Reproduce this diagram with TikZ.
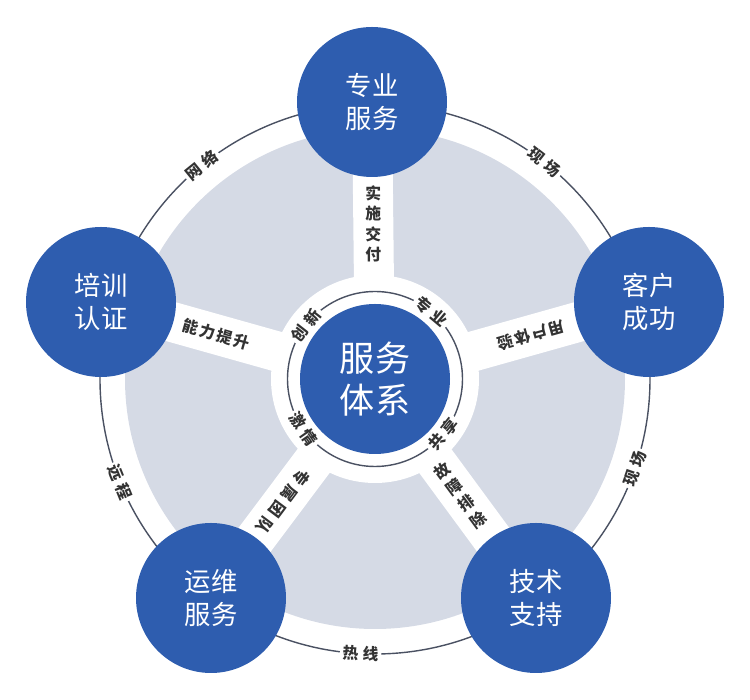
\documentclass[tikz,border=0pt]{standalone}
\usepackage{fontspec}
\setmainfont{Noto Sans CJK SC}
\usetikzlibrary{backgrounds,calc}
\definecolor{nodeblue}{HTML}{2E5DAF}
\definecolor{discgray}{HTML}{D5DAE5}
\definecolor{ringgray}{HTML}{4A5162}
\definecolor{labelgray}{HTML}{333333}
\newcommand{\gap}{\hspace{2.5pt}}
\newcommand{\sgap}{\hspace{1pt}}

\begin{document}
\begin{tikzpicture}[
    hub/.style={circle, fill=nodeblue, minimum size=3cm, inner sep=0pt, text=white, align=center, font=\fontsize{15}{19}\selectfont},
    core/.style={hub, font=\fontsize{20}{24}\selectfont},
    spoke/.style={draw=white, line width=0.8cm},
    ring/.style={draw=ringgray, line width=0.8pt},
    tag/.style={text=labelgray, inner sep=1.5pt, font=\bfseries\fontsize{9}{11.5}\selectfont},
    ringtag/.style={tag, fill=white},
]
    \useasboundingbox (0,0) rectangle (15,14);
    \def \ro {5.5}
    \def \ri {1.75}
    \node[core] (c) at (7.50, 6.42) {服务\\体系};
    \node[hub] (zy) at (7.44, 11.96) {专业\\服务};
    \node[hub] (kh) at (12.98, 7.96) {客户\\成功};
    \node[hub] (js) at (10.72, 2.04) {技术\\支持};
    \node[hub] (yw) at (4.22, 2.04) {运维\\服务};
    \node[hub] (px) at (2.02, 7.96) {培训\\认证};
    \begin{scope}[on background layer]
        \fill[discgray] (c.center) circle (5);
        \fill[white] (c.center) circle (2.08);
        \foreach \n in {zy, kh, js, yw, px}
            \draw[spoke] (c.center) -- (\n.center);
        \draw[ring] (c.center) circle (\ro);
        \draw[ring] (c.center) circle (\ri);
    \end{scope}
    % spoke labels
    \path (c.center) -- (zy.center) node[tag, pos=0.56, align=center] (sszf) {实\\施\\交\\付};
    \path (c.center) -- (kh.center) node[tag, pos=0.57, rotate=195.7] (yhty) {用\sgap 户\sgap 体\sgap 验};
    \path (c.center) -- (js.center) node[tag, pos=0.53, rotate=36.3, align=center] (gzpc) {故\\障\\排\\除};
    \path (c.center) -- (yw.center) node[tag, pos=0.56, rotate=233.2] (zstd) {专\gap 属\gap 团\gap 队};
    \path (c.center) -- (px.center) node[tag, pos=0.58, rotate=-15.7] (nlts) {能\sgap 力\sgap 提\sgap 升};
    % outer ring labels
    \node[ringtag, rotate=39] (wl) at ($(c.center)+(129:\ro)$) {网\gap 络};
    \node[ringtag, rotate=-38] (xc1) at ($(c.center)+(52:\ro)$) {现\gap 场};
    \node[ringtag, rotate=71] (xc2) at ($(c.center)+(-19:\ro)$) {现\gap 场};
    \node[ringtag, rotate=-3] (rx) at ($(c.center)+(267:\ro)$) {热\gap 线};
    \node[ringtag, rotate=-68] (yc) at ($(c.center)+(202:\ro)$) {远\gap 程};
    % inner ring labels
    \node[ringtag, rotate=-40] (zyi) at ($(c.center)+(50:\ri)$) {专\gap 业};
    \node[ringtag, rotate=52] (cx) at ($(c.center)+(142:\ri)$) {创\gap 新};
    \node[ringtag, rotate=-55] (jq) at ($(c.center)+(215:\ri)$) {激\gap 情};
    \node[ringtag, rotate=51] (gx) at ($(c.center)+(321:\ri)$) {共\gap 享};
\end{tikzpicture}
\end{document}
